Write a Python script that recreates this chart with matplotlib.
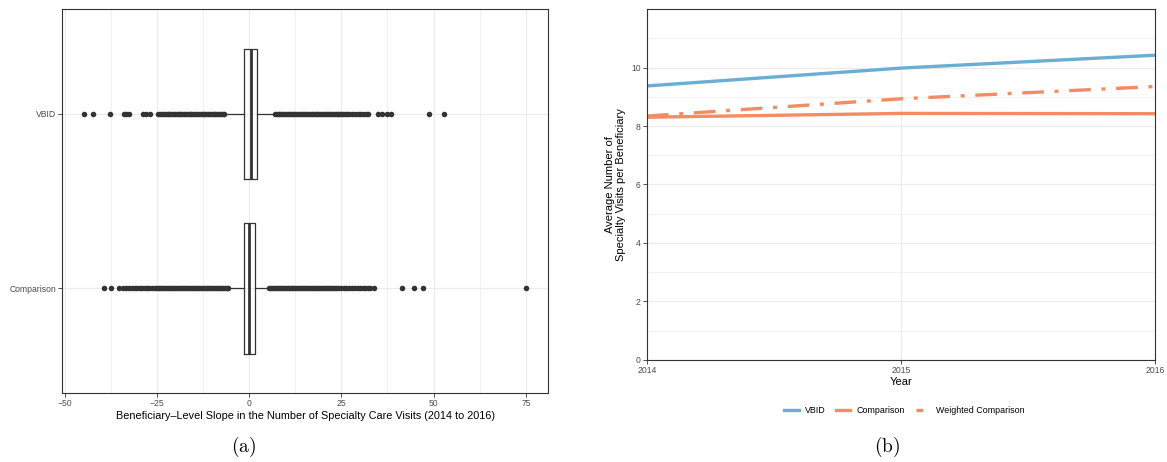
import numpy as np
import matplotlib
matplotlib.use('Agg')
import matplotlib.pyplot as plt
from matplotlib.lines import Line2D

plt.rcParams['font.family'] = ['Liberation Sans', 'DejaVu Sans']
plt.rcParams['mathtext.fontset'] = 'cm'

# ---- panel (a): box plot summaries ----
groups = ['Comparison', 'VBID']
q1 = [-1.3, -1.4]
med = [0.1, 0.5]
q3 = [1.6, 2.1]
whis_lo = [-5.3, -6.3]
whis_hi = [5.1, 6.7]

vbid_fliers = [-44.7, -42.2, -37.7, -33.8, -33.3, -32.6, -28.8, -27.9, -26.8,
               -24.6, -24.1, -23.6, -23.1, -22.6, -22.1, -21.6, -21.1, -20.6, -20.1,
               -19.6, -19.1, -18.6, -18.1, -17.6, -17.1, -16.6, -16.1, -15.6, -15.1,
               -14.6, -14.1, -13.6, -13.1, -12.6, -12.1, -11.6, -11.1, -10.6, -10.1,
               -9.6, -9.1, -8.6, -8.1, -7.6, -7.1, -6.7,
               7.0, 7.5, 8.0, 8.5, 9.0, 9.5, 10.0, 10.5, 11.0, 11.5, 12.0, 12.5,
               13.0, 13.5, 14.0, 14.5, 15.0, 15.5, 16.0, 16.5, 17.0, 17.5, 18.0, 18.5,
               19.0, 19.5, 20.0, 20.5, 21.0, 21.5, 22.0, 22.5, 23.0, 23.5, 24.0, 24.5,
               25.0, 25.5, 26.0, 26.5, 27.2, 28.0, 28.6, 29.5, 30.1, 30.9, 31.6, 32.3,
               34.8, 36.0, 37.3, 38.4, 48.7, 52.7]

comp_fliers = [-39.3, -37.4, -35.2, -34.1, -33.4, -32.6, -31.8, -31.0, -30.3, -29.6,
               -29.1, -28.2, -27.7, -27.0, -26.4,
               -25.5, -25.0, -24.5, -24.0, -23.5, -23.0, -22.5, -22.0, -21.5, -21.0,
               -20.5, -20.0, -19.5, -19.0, -18.5, -18.0, -17.5, -17.0, -16.5, -16.0,
               -15.5, -15.0, -14.5, -14.0, -13.5, -13.0, -12.5, -12.0, -11.5, -11.0,
               -10.5, -10.0, -9.5, -9.0, -8.5, -8.0, -7.5, -7.0, -6.5, -6.0, -5.6,
               5.5, 6.0, 6.5, 7.0, 7.5, 8.0, 8.5, 9.0, 9.5, 10.0, 10.5, 11.0, 11.5,
               12.0, 12.5, 13.0, 13.5, 14.0, 14.5, 15.0, 15.5, 16.0, 16.5, 17.0, 17.5,
               18.0, 18.5, 19.0, 19.5, 20.0, 20.5, 21.0, 21.5, 22.0, 22.5, 23.0, 23.5,
               24.0, 24.8, 25.6, 26.3, 27.1, 27.9, 28.6, 29.4, 30.1, 30.8, 31.5, 32.2,
               32.8, 33.9, 41.4, 44.7, 47.2, 75.1]

fliers = [comp_fliers, vbid_fliers]

# ---- panel (b): yearly averages ----
years = [2014, 2015, 2016]
vbid = [9.37, 9.98, 10.42]
comparison = [8.30, 8.43, 8.42]
weighted = [8.34, 8.93, 9.35]

grid_col = '#EBEBEB'
dark = '#333333'
tick_col = '#4D4D4D'

fig = plt.figure(figsize=(11.67, 4.62), dpi=100)
ax1 = fig.add_axes([0.0534, 0.149, 0.4162, 0.831])
ax2 = fig.add_axes([0.5544, 0.2208, 0.4353, 0.7597])

stats = []
for i in range(2):
    stats.append(dict(label=groups[i], med=med[i], q1=q1[i], q3=q3[i],
                      whislo=whis_lo[i], whishi=whis_hi[i], fliers=fliers[i]))

ax1.bxp(stats, positions=[1, 2], widths=0.75, orientation='horizontal',
        boxprops=dict(color=dark, linewidth=0.9),
        whiskerprops=dict(color=dark, linewidth=0.9),
        capprops=dict(linewidth=0),
        medianprops=dict(color=dark, linewidth=2.0),
        flierprops=dict(marker='o', markersize=4.0, markerfacecolor=dark,
                        markeredgewidth=0, linestyle='none'))

ax1.set_xlim(-50.6, 81.0)
ax1.set_ylim(0.4, 2.6)
ax1.set_xticks([-50, -25, 0, 25, 50, 75])
ax1.set_xticks([-37.5, -12.5, 12.5, 37.5, 62.5], minor=True)
ax1.set_xticklabels(['\u221250', '\u221225', '0', '25', '50', '75'])
ax1.set_yticks([1, 2])
ax1.set_yticklabels(groups)
ax1.grid(which='major', color=grid_col, linewidth=0.8)
ax1.grid(which='minor', axis='x', color=grid_col, linewidth=0.5)
ax1.set_axisbelow(True)
ax1.set_xlabel('Beneficiary\u2013Level Slope in the Number of Specialty Care Visits (2014 to 2016)',
               fontsize=7.8, color='black', labelpad=2)

ax2.plot(years, vbid, color='#6aaed6', linewidth=2.4, solid_capstyle='butt')
ax2.plot(years, comparison, color='#f28c62', linewidth=2.4, solid_capstyle='butt')
ax2.plot(years, weighted, color='#f28c62', linewidth=2.4,
         dashes=(6.5, 3.2, 1.2, 3.2), dash_capstyle='butt')
ax2.set_xlim(2014, 2016)
ax2.set_ylim(0, 12)
ax2.set_xticks(years)
ax2.set_yticks([0, 2, 4, 6, 8, 10])
ax2.set_yticks([1, 3, 5, 7, 9, 11], minor=True)
ax2.grid(which='major', color=grid_col, linewidth=0.8)
ax2.grid(which='minor', axis='y', color=grid_col, linewidth=0.5)
ax2.set_axisbelow(True)
ax2.set_xlabel('Year', fontsize=8.0, color='black', labelpad=1)
ax2.set_ylabel('Average Number of\nSpecialty Visits per Beneficiary', fontsize=8.0,
               color='black', labelpad=4, linespacing=1.1)

for ax in (ax1, ax2):
    for s in ax.spines.values():
        s.set_color(dark)
        s.set_linewidth(0.8)
    ax.tick_params(which='major', length=3, width=0.6, color=dark, labelsize=6.2,
                   labelcolor=tick_col, pad=1.5)
    ax.tick_params(which='minor', length=0)

handles = [Line2D([], [], color='#6aaed6', linewidth=2.4),
           Line2D([], [], color='#f28c62', linewidth=2.4),
           Line2D([], [], color='#f28c62', linewidth=2.4, dashes=(2.0, 3.2, 0.8, 3.2))]
fig.legend(handles, ['VBID', 'Comparison', 'Weighted Comparison'],
           loc='center', bbox_to_anchor=(0.775, 0.112), ncol=3, frameon=False,
           fontsize=6.4, handlelength=1.6, handletextpad=0.7, columnspacing=1.2)

fig.text(0.209, 0.006, r'$\mathrm{(a)}$', ha='center', va='bottom', fontsize=14)
fig.text(0.760, 0.006, r'$\mathrm{(b)}$', ha='center', va='bottom', fontsize=14)

fig.savefig('out.png', dpi=100)
